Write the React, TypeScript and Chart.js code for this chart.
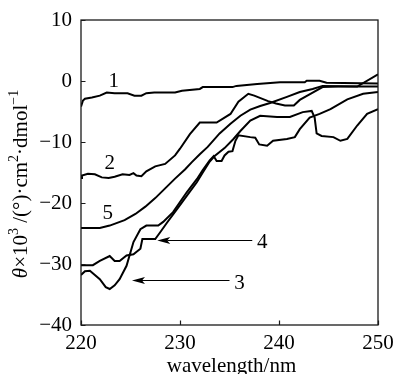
import React, { useEffect, useRef } from 'react';
import { Chart, registerables } from 'chart.js';

Chart.register(...registerables);

// ---- data (wavelength in nm, theta in 10^3 deg·cm2·dmol-1) ----
const wl1 = [220.0, 220.2, 220.4, 221.1, 221.9, 222.6, 223.4, 224.7, 225.4, 226.1, 226.6, 227.4, 229.5, 230.2, 232.0, 232.3, 235.3, 235.7, 237.8, 240.1, 242.6, 242.8, 244.1, 244.8, 250.0];
const th1 = [-4.2, -3.2, -2.9, -2.7, -2.4, -1.9, -2.0, -2.0, -2.4, -2.4, -2.0, -1.9, -1.9, -1.6, -1.3, -1.0, -1.0, -0.8, -0.5, -0.2, -0.2, 0.05, 0.05, -0.3, -0.4];

const wl2 = [220.0, 220.1, 220.7, 221.4, 222.1, 222.8, 223.4, 224.2, 224.9, 225.3, 225.6, 226.1, 226.6, 227.5, 228.5, 229.5, 230.0, 231.0, 232.0, 233.7, 235.1, 235.9, 236.9, 237.5, 238.9, 239.7, 240.6, 241.5, 242.1, 243.4, 244.4, 246.0, 250.0];
const th2 = [-15.9, -15.5, -15.2, -15.3, -15.8, -15.9, -15.7, -15.3, -15.4, -15.1, -15.5, -15.6, -14.8, -14.0, -13.6, -12.2, -11.1, -8.7, -6.8, -6.8, -5.4, -3.4, -2.1, -2.4, -3.3, -3.7, -4.0, -4.0, -3.1, -1.9, -1.0, -0.9, -0.9];

const wl3 = [220.0, 220.4, 220.9, 221.9, 222.5, 222.9, 223.4, 223.9, 224.6, 225.3, 226.0, 226.6, 227.8, 228.3, 229.3, 230.7, 231.7, 232.3, 233.0, 233.4, 233.7, 234.2, 234.5, 234.9, 235.3, 235.6, 235.9, 237.1, 237.6, 238.0, 238.8, 239.4, 240.8, 241.6, 242.1, 243.1, 244.1, 245.2, 246.9, 248.5, 250.0];
const th3 = [-31.8, -31.2, -31.1, -32.5, -33.8, -34.1, -33.5, -32.5, -30.3, -26.4, -24.3, -23.7, -23.7, -23.1, -21.5, -18.2, -16.1, -14.6, -13.0, -12.3, -13.1, -13.1, -12.2, -11.6, -11.5, -9.8, -8.9, -9.2, -9.3, -10.4, -10.6, -9.8, -9.5, -9.2, -7.9, -6.0, -5.4, -4.6, -3.0, -2.1, -1.8];

const wl4 = [220.0, 221.2, 221.9, 222.9, 223.4, 223.9, 224.6, 225.3, 226.0, 226.2, 227.5, 228.0, 228.7, 229.7, 230.7, 231.7, 232.3, 233.0, 233.5, 234.5, 235.4, 236.1, 237.1, 238.1, 239.8, 241.1, 242.4, 243.3, 243.6, 243.8, 244.3, 245.5, 246.2, 246.9, 247.9, 248.9, 250.0];
const th4 = [-30.2, -30.2, -29.5, -28.7, -29.5, -29.5, -28.6, -28.4, -27.5, -25.9, -25.9, -24.8, -23.2, -21.0, -18.8, -16.6, -15.0, -13.2, -12.3, -11.0, -9.5, -8.2, -6.5, -5.7, -5.9, -5.9, -5.1, -4.9, -6.0, -8.6, -9.0, -9.2, -9.8, -9.5, -7.3, -5.4, -4.6];

const wl5 = [220.0, 221.9, 222.9, 224.4, 225.5, 226.5, 227.5, 228.5, 229.5, 230.5, 231.2, 232.0, 232.8, 234.0, 235.1, 236.1, 237.1, 238.1, 239.1, 240.8, 242.1, 243.4, 244.4, 247.9, 250.0];
const th5 = [-24.1, -24.1, -23.7, -22.8, -21.8, -20.6, -19.2, -17.6, -16.0, -14.5, -13.3, -12.0, -10.8, -8.6, -7.0, -5.7, -4.7, -4.1, -3.6, -2.6, -1.8, -1.3, -0.8, -0.9, 1.1];

const xTicks = [220, 230, 240, 250];
const yTicks = [10, 0, -10, -20, -30, -40];

// curve number labels (anchor in data units)
const curveNames = ['1', '2', '5', '4', '3'];
const nameX = [223.3, 222.9, 222.7, 238.3, 236.0];
const nameY = [-1.0, -14.4, -22.6, -27.4, -34.1];

// pointer arrows for curves 4 and 3
const arrowFromX = [237.3, 235.0];
const arrowToX = [227.7, 225.15];
const arrowAtY = [-26.0, -32.7];

const xTitle = 'wavelength/nm';

const FONT = "'Liberation Serif', 'Times New Roman', serif";

const decor = {
  id: 'decor',
  afterDatasetsDraw(chart: any) {
    const { ctx, chartArea: a, scales } = chart;
    const xs = scales.x;
    const ys = scales.y;
    ctx.save();
    // frame
    ctx.strokeStyle = '#1a1a1a';
    ctx.lineWidth = 1.3;
    ctx.strokeRect(a.left, a.top, a.right - a.left, a.bottom - a.top);
    // inner ticks
    ctx.lineWidth = 1.2;
    ctx.beginPath();
    yTicks.forEach((v) => {
      const p = Math.round(ys.getPixelForValue(v)) + 0.5;
      ctx.moveTo(a.left, p);
      ctx.lineTo(a.left + 4.5, p);
    });
    xTicks.forEach((v) => {
      const p = Math.round(xs.getPixelForValue(v)) + 0.5;
      ctx.moveTo(p, a.bottom);
      ctx.lineTo(p, a.bottom - 4.5);
    });
    ctx.stroke();

    // curve labels
    ctx.fillStyle = '#000';
    ctx.font = `21px ${FONT}`;
    ctx.textAlign = 'center';
    ctx.textBaseline = 'alphabetic';
    curveNames.forEach((t, i) => {
      ctx.fillText(t, xs.getPixelForValue(nameX[i]), ys.getPixelForValue(nameY[i]));
    });

    // arrows
    ctx.strokeStyle = '#000';
    ctx.lineWidth = 1;
    arrowFromX.forEach((fx, i) => {
      const x0 = xs.getPixelForValue(fx);
      const x1 = xs.getPixelForValue(arrowToX[i]);
      const y = Math.round(ys.getPixelForValue(arrowAtY[i])) + 0.5;
      ctx.beginPath();
      ctx.moveTo(x0, y);
      ctx.lineTo(x1 + 10, y);
      ctx.stroke();
      ctx.beginPath();
      ctx.moveTo(x1, y);
      ctx.lineTo(x1 + 13, y - 3.5);
      ctx.lineTo(x1 + 10, y);
      ctx.lineTo(x1 + 13, y + 3.5);
      ctx.closePath();
      ctx.fill();
    });

    // x title
    ctx.font = `21px ${FONT}`;
    ctx.textAlign = 'center';
    ctx.fillText(xTitle, (a.left + a.right) / 2 + 2, 372);

    // y title with superscripts
    const segs: { t: string; f: string; sup?: boolean }[] = [
      { t: 'θ', f: `italic 21px ${FONT}` },
      { t: '×10', f: `21px ${FONT}` },
      { t: '3', f: `14px ${FONT}`, sup: true },
      { t: ' /(°)·cm', f: `21px ${FONT}` },
      { t: '2', f: `14px ${FONT}`, sup: true },
      { t: '·dmol', f: `21px ${FONT}` },
      { t: '−1', f: `14px ${FONT}`, sup: true },
    ];
    let total = 0;
    const widths = segs.map((s) => {
      ctx.font = s.f;
      const w = ctx.measureText(s.t).width;
      total += w;
      return w;
    });
    ctx.translate(27, 184);
    ctx.rotate(-Math.PI / 2);
    ctx.textAlign = 'left';
    let cx = -total / 2;
    segs.forEach((s, i) => {
      ctx.font = s.f;
      ctx.fillText(s.t, cx, s.sup ? -9 : 0);
      cx += widths[i];
    });
    ctx.restore();
  },
};

export default function App() {
  const ref = useRef<HTMLCanvasElement | null>(null);
  useEffect(() => {
    const mk = (wl: number[], th: number[]) => wl.map((x, i) => ({ x, y: th[i] }));
    const series = [
      [wl1, th1],
      [wl2, th2],
      [wl3, th3],
      [wl4, th4],
      [wl5, th5],
    ];
    const chart = new Chart(ref.current as HTMLCanvasElement, {
      type: 'line',
      data: {
        datasets: series.map(([wl, th], i) => ({
          label: String(i + 1),
          data: mk(wl as number[], th as number[]),
          borderColor: '#000',
          borderWidth: 2,
          pointRadius: 0,
          tension: 0,
          fill: false,
        })),
      },
      options: {
        responsive: false,
        animation: false,
        layout: { padding: { top: 20, right: 16, left: 0, bottom: 0 } },
        plugins: { legend: { display: false }, tooltip: { enabled: false } },
        scales: {
          x: {
            type: 'linear',
            min: 220,
            max: 250,
            afterBuildTicks: (s: any) => {
              s.ticks = xTicks.map((v) => ({ value: v }));
            },
            ticks: { color: '#000', font: { family: FONT, size: 21 }, padding: 6, maxRotation: 0, autoSkip: false },
            grid: { display: false, drawTicks: false },
            border: { display: false },
            afterFit: (s: any) => {
              s.height = 49;
              s.paddingLeft = 0;
              s.paddingRight = 0;
            },
          },
          y: {
            type: 'linear',
            min: -40,
            max: 10,
            afterBuildTicks: (s: any) => {
              s.ticks = yTicks.map((v) => ({ value: v }));
            },
            ticks: {
              color: '#000',
              font: { family: FONT, size: 21 },
              padding: 9,
              callback: (v: any) => (Number(v) < 0 ? '−' + Math.abs(Number(v)) : String(v)),
            },
            grid: { display: false, drawTicks: false },
            border: { display: false },
            afterFit: (s: any) => {
              s.width = 81;
              s.paddingTop = 0;
              s.paddingBottom = 0;
            },
          },
        },
      },
      plugins: [decor],
    } as any);
    return () => chart.destroy();
  }, []);
  return (
    <div style={{ position: 'absolute', left: 0, top: 0, width: 394, height: 374, background: '#fff' }}>
      <canvas ref={ref} width={394} height={374} style={{ display: 'block' }} />
    </div>
  );
}
